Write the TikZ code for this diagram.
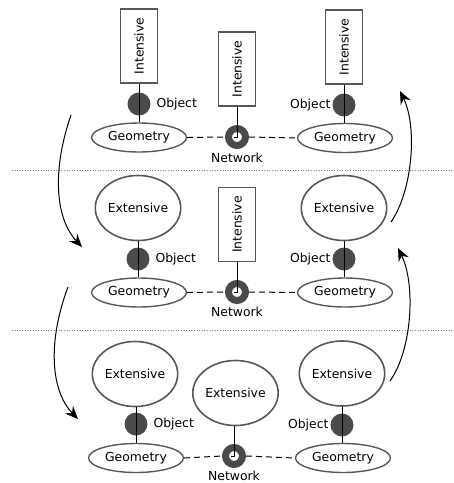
\documentclass[tikz,border=0pt]{standalone}
\usepackage{fontspec}
\setmainfont{DejaVu Sans}
\usetikzlibrary{shapes.geometric,arrows.meta}
\definecolor{edge}{HTML}{585858}
\definecolor{blob}{HTML}{4A4A4A}
\begin{document}
\begin{tikzpicture}[x=1pt,y=-1pt,
  font=\fontsize{12.4}{14}\selectfont,
  intbox/.style={draw=edge,line width=1.6pt,rotate=90,minimum width=74pt,minimum height=37pt,inner sep=0pt},
  extbox/.style={draw=edge,line width=1.6pt,ellipse,minimum width=74pt,minimum height=65pt,inner sep=0pt},
  geobox/.style={draw=edge,line width=1.4pt,ellipse,minimum width=95pt,minimum height=29pt,inner sep=0pt},
  objdot/.style={circle,fill=blob,minimum size=23pt,inner sep=0pt},
  netring/.style={circle,draw=blob,line width=7pt,minimum size=17pt,inner sep=0pt},
  link/.style={line width=1pt,black},
  netlink/.style={link,dashed,dash pattern=on 6pt off 4pt},
  divider/.style={line width=0.6pt,gray,dotted},
  flow/.style={line width=1pt,-{Stealth[length=13pt,width=11pt,inset=4.5pt]}}
]
\useasboundingbox (0,0) rectangle (454,483);

% dividers between the three stages
\coordinate (d1a) at (12,170); \coordinate (d1b) at (454,170);
\coordinate (d2a) at (12,330); \coordinate (d2b) at (454,330);
\draw[divider] (d1a) -- (d1b);
\draw[divider] (d2a) -- (d2b);

% ---------- stage 1 ----------
\node[intbox] (a1) at (139,46) {Intensive};
\node[objdot] (ao1) at (139,104) {};
\node[anchor=west] (al1) at (153,104) {Object};
\node[geobox] (ag1) at (139,137.5) {Geometry};

\node[intbox] (b1) at (237,69) {Intensive};
\node[netring] (bn1) at (237,137) {};
\node (bl1) at (237,158) {Network};

\node[intbox] (c1) at (344,47) {Intensive};
\node[objdot] (co1) at (344,105) {};
\node[anchor=east] (cl1) at (334,105) {Object};
\node[geobox] (cg1) at (345,138) {Geometry};

% rotated boxes: their west anchor sits at the bottom edge
\draw[link] (a1.west) -- (ag1.north);
\draw[link] (c1.west) -- (c1.west |- cg1.north);
\draw[link] (b1.west) -- (bn1.center) -- ++(-3,0);
\draw[netlink] (ag1.east) -- (bn1.west);
\draw[netlink] (bn1.east) -- (cg1.west);

% ---------- stage 2 ----------
\node[extbox] (a2) at (138,208) {Extensive};
\node[objdot] (ao2) at (138,259) {};
\node[anchor=west] (al2) at (152,259) {Object};
\node[geobox] (ag2) at (139,292.5) {Geometry};

\node[intbox] (b2) at (237,224.5) {Intensive};
\node[netring] (bn2) at (237,292) {};
\node (bl2) at (237,312) {Network};

\node[extbox] (c2) at (344,208) {Extensive};
\node[objdot] (co2) at (344,259) {};
\node[anchor=east] (cl2) at (334,259) {Object};
\node[geobox] (cg2) at (345,292.5) {Geometry};

\draw[link] (a2.south) -- (a2.south |- ag2.north);
\draw[link] (c2.south) -- (c2.south |- cg2.north);
\draw[link] (b2.west) -- (bn2.center) -- ++(-3,0);
\draw[netlink] (ag2.east) -- (bn2.west);
\draw[netlink] (bn2.east) -- (cg2.west);

% ---------- stage 3 ----------
\node[extbox] (a3) at (135,374) {Extensive};
\node[objdot] (ao3) at (136,424) {};
\node[anchor=west] (al3) at (150,424) {Object};
\node[geobox] (ag3) at (136,458) {Geometry};

\node[extbox] (b3) at (235.5,393) {Extensive};
\node[netring] (bn3) at (234,456) {};
\node (bl3) at (234,476) {Network};

\node[extbox] (c3) at (342,373.5) {Extensive};
\node[objdot] (co3) at (342,425) {};
\node[anchor=east] (cl3) at (332,425) {Object};
\node[geobox] (cg3) at (343,458) {Geometry};

\draw[link] (ao3 |- a3.south) -- (ao3 |- ag3.north);
\draw[link] (c3.south) -- (c3.south |- cg3.north);
\draw[link] (bn3 |- b3.south) -- (bn3.center) -- ++(-3,0);
\draw[netlink] (ag3.east) -- (bn3.west);
\draw[netlink] (bn3.east) -- (cg3.west);

% ---------- transitions ----------
\coordinate (f1s) at (71,115);  \coordinate (f1e) at (82,247);
\coordinate (f2s) at (68,287);  \coordinate (f2e) at (78,419);
\coordinate (r1s) at (391,222); \coordinate (r1e) at (400,91);
\coordinate (r2s) at (390,381); \coordinate (r2e) at (398,248);
\draw[flow] (f1s) .. controls (52,170) and (55,218) .. (f1e);
\draw[flow] (f2s) .. controls (48,340) and (50,390) .. (f2e);
\draw[flow] (r1s) .. controls (412,192) and (418,128) .. (r1e);
\draw[flow] (r2s) .. controls (412,350) and (416,285) .. (r2e);
\end{tikzpicture}
\end{document}
